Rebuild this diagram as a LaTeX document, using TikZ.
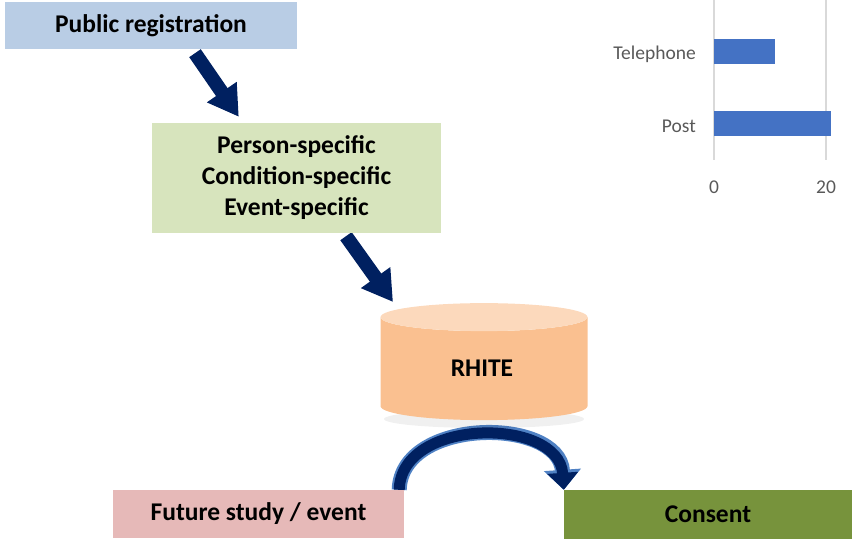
\documentclass[tikz,border=0pt]{standalone}
\usepackage{fontspec}
\setmainfont{Carlito}
\usetikzlibrary{arrows.meta,shapes.geometric}
\pgfdeclarelayer{edgelayer}
\pgfdeclarelayer{nodelayer}
\pgfsetlayers{edgelayer,nodelayer,main}
\definecolor{regblue}{HTML}{B9CDE5}
\definecolor{specgreen}{HTML}{D7E4BD}
\definecolor{dbbody}{HTML}{FAC090}
\definecolor{dbtop}{HTML}{FCD9BC}
\definecolor{futpink}{HTML}{E6B9B8}
\definecolor{consgreen}{HTML}{77933C}
\definecolor{navy}{HTML}{002060}
\definecolor{rimblue}{HTML}{4F81C4}
\definecolor{barblue}{HTML}{4472C4}
\definecolor{gridgray}{HTML}{D9D9D9}
\definecolor{axisgray}{HTML}{595959}
\tikzstyle{none}=[inner sep=0pt]
\tikzstyle{box}=[rectangle,inner sep=0pt,align=center,font=\bfseries\fontsize{25.5}{31}\selectfont]
\tikzstyle{regbox}=[box,fill=regblue,minimum width=292pt,minimum height=47pt]
\tikzstyle{specbox}=[box,fill=specgreen,minimum width=289pt,minimum height=110pt]
\tikzstyle{futbox}=[box,fill=futpink,minimum width=291pt,minimum height=48pt]
\tikzstyle{consbox}=[box,fill=consgreen,minimum width=288pt,minimum height=49pt]
\tikzstyle{db}=[cylinder,inner sep=28pt,shape border rotate=90,aspect=0.5,
  minimum width=207pt,minimum height=117pt,
  cylinder uses custom fill,cylinder body fill=dbbody,cylinder end fill=dbtop]
\tikzstyle{dbshade}=[ellipse,inner sep=0pt,fill=black,opacity=0.06,minimum width=200pt,minimum height=18pt]
\tikzstyle{navyarrow}=[line width=14pt,draw=navy,-{Triangle[width=34pt,length=30pt]}]
\tikzstyle{looprim}=[line width=15pt,draw=rimblue,-{Triangle[width=36pt,length=20pt,fill=rimblue]}]
\tikzstyle{loopcore}=[line width=11pt,draw=navy,-{Triangle[width=30pt,length=17pt,fill=navy]}]
\tikzstyle{grid}=[draw=gridgray,line width=1.5pt]
\tikzstyle{bar}=[rectangle,fill=barblue,inner sep=0pt,minimum height=25pt,anchor=west]
\tikzstyle{axislabel}=[inner sep=0pt,text=axisgray,font=\fontsize{19.5}{23}\selectfont]

\begin{document}
\begin{tikzpicture}[x=1pt,y=-1pt]
	\useasboundingbox (0,0) rectangle (854,539);
	\begin{pgfonlayer}{nodelayer}
		\node [style=regbox] (0) at (151,25.5) {Public registration};
		\node [style=specbox] (1) at (296.5,178) {Person-specific\\Condition-specific\\Event-specific};
		\node [style=dbshade] (15) at (484,419) {};
		\node [style=db] (2) at (484,373.5) {};
		\node [style=box] (16) at (482,368) {RHITE};
		\node [style=futbox] (3) at (258.5,514) {Future study / event};
		\node [style=consbox] (4) at (708,514.5) {Consent};
		% chart
		\node [style=none] (5) at (714,0) {};
		\node [style=none] (6) at (714,160) {};
		\node [style=none] (7) at (826,0) {};
		\node [style=none] (8) at (826,160) {};
		\node [style=bar,minimum width=61pt] (9) at (714,51.5) {};
		\node [style=bar,minimum width=117pt] (10) at (714,123) {};
		\node [style=axislabel,anchor=base east] (11) at (696,59) {Telephone};
		\node [style=axislabel,anchor=base east] (12) at (696,132) {Post};
		\node [style=axislabel,anchor=base] (13) at (714,193) {0};
		\node [style=axislabel,anchor=base] (14) at (826,193) {20};
	\end{pgfonlayer}
	\begin{pgfonlayer}{edgelayer}
		\draw [style=grid] (5.center) to (6.center);
		\draw [style=grid] (7.center) to (8.center);
		\draw [style=navyarrow] ([xshift=44pt,yshift=-4pt]0.south) to ([xshift=87pt,yshift=6pt]1.north west);
		\draw [style=navyarrow] ([xshift=49.5pt,yshift=-3pt]1.south) to ([xshift=-91pt,yshift=71.5pt]2.center);
		\draw [style=looprim] ([xshift=-5pt]3.north east) .. controls +(2,-73) and +(-5,-73) .. (4.north west);
		\draw [style=loopcore] ([xshift=-5pt]3.north east) .. controls +(2,-73) and +(-5,-73) .. (4.north west);
	\end{pgfonlayer}
\end{tikzpicture}
\end{document}
